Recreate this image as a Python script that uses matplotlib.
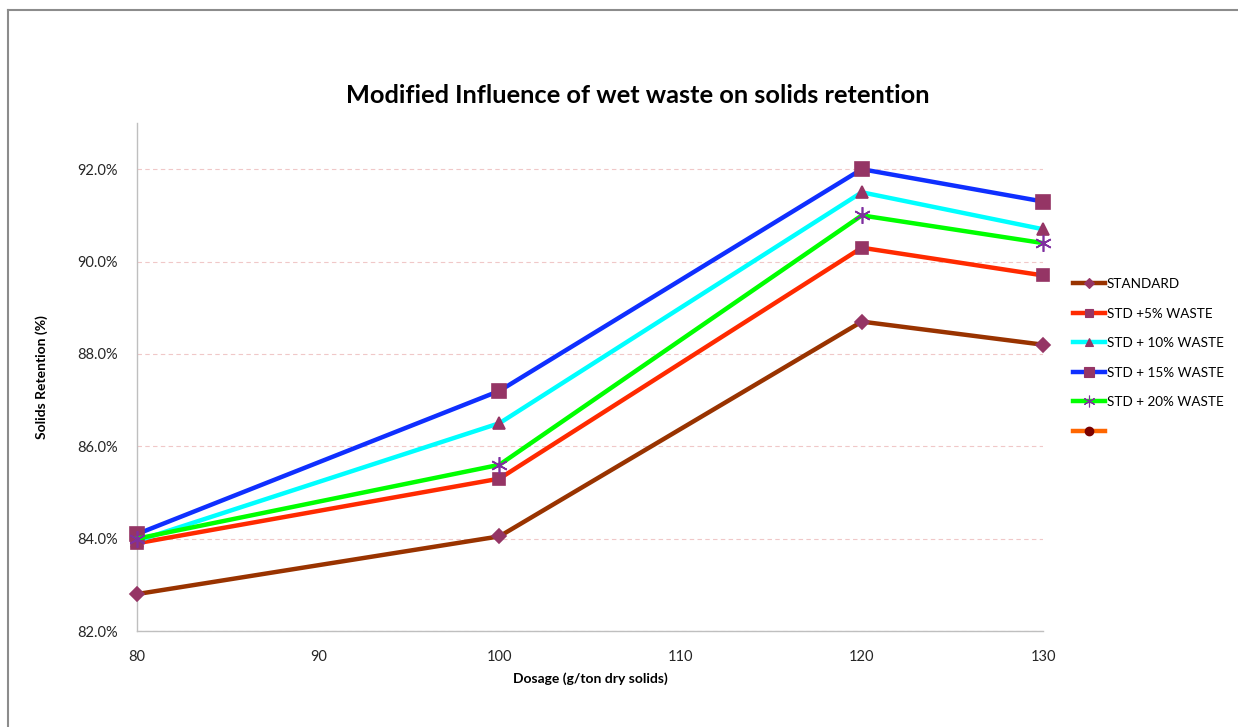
import matplotlib
matplotlib.use("Agg")
import matplotlib.pyplot as plt
from matplotlib.lines import Line2D
from matplotlib.ticker import FuncFormatter

plt.rcParams["font.family"] = ["Lato", "DejaVu Sans"]

# --- data ---
dosage = [80, 100, 120, 130]
standard = [82.8, 84.05, 88.7, 88.2]
std_5 = [83.9, 85.3, 90.3, 89.7]
std_10 = [83.95, 86.5, 91.5, 90.7]
std_15 = [84.1, 87.2, 92.0, 91.3]
std_20 = [84.0, 85.6, 91.0, 90.4]
empty_series = []

labels = ["STANDARD", "STD +5% WASTE", "STD + 10% WASTE", "STD + 15% WASTE", "STD + 20% WASTE", ""]
y_ticks = [82, 84, 86, 88, 90, 92]

# --- style ---
MARK = "#953565"
COL_GRID = "#F0C8C8"
COL_FRAME = "#BFBFBF"
COL_TEXT = "#262626"

fig = plt.figure(figsize=(12.38, 7.27), dpi=100, facecolor="white")
ax = fig.add_axes([0.1107, 0.132, 0.7318, 0.6988])

# outer chart frame (left + top visible)
fig.add_artist(Line2D([8 / 1238, 8 / 1238], [0, 1 - 10 / 727], color="#8C8C8C", lw=1.5, transform=fig.transFigure))
fig.add_artist(Line2D([8 / 1238, 1], [1 - 10 / 727, 1 - 10 / 727], color="#8C8C8C", lw=1.5, transform=fig.transFigure))

series = [
    (standard, "#993300", "D", 7, MARK),
    (std_5, "#FF2A00", "s", 9, MARK),
    (std_10, "#00FFFF", "^", 9, MARK),
    (std_15, "#0F2FFF", "s", 10, MARK),
    (std_20, "#00FF00", (6, 2, 0), 12, "#7F2F9F"),
]

handles = []
for vals, col, mk, ms, mcol in series:
    ax.plot(dosage, vals, color=col, lw=3.2, marker=mk, markersize=ms, clip_on=False,
            markerfacecolor=mcol, markeredgecolor=mcol, markeredgewidth=1.2, zorder=3)
    handles.append(Line2D([], [], color=col, lw=3.2, marker=mk, markersize=ms * 0.7,
                          markerfacecolor=mcol, markeredgecolor=mcol, markeredgewidth=0.8))
ax.plot(empty_series, empty_series, color="#FF6600", lw=3.2, marker="o", markersize=8,
        markerfacecolor="#7A0000", markeredgecolor="#7A0000")
handles.append(Line2D([], [], color="#FF6600", lw=3.2, marker="o", markersize=6,
                      markerfacecolor="#7A0000", markeredgecolor="#7A0000"))

ax.set_xlim(80, 130)
ax.set_ylim(82, 93)
ax.set_xticks([80, 90, 100, 110, 120, 130])
ax.set_yticks(y_ticks)
ax.yaxis.set_major_formatter(FuncFormatter(lambda v, p: f"{v:.1f}%"))
ax.grid(axis="y", color=COL_GRID, linestyle=(0, (4, 3)), linewidth=0.8)
ax.set_axisbelow(True)
for s in ["top", "right"]:
    ax.spines[s].set_visible(False)
for s in ["left", "bottom"]:
    ax.spines[s].set_color(COL_FRAME)
    ax.spines[s].set_linewidth(1.0)
ax.tick_params(axis="both", length=0, labelsize=10.5, labelcolor=COL_TEXT, pad=14)
ax.tick_params(axis="x", pad=14)

ax.set_xlabel("Dosage (g/ton dry solids)", fontsize=10, fontweight="bold", color="black", labelpad=6)
ax.set_ylabel("Solids Retention (%)", fontsize=10, fontweight="bold", color="black", labelpad=21)

fig.text(0.515, 0.869, "Modified Influence of wet waste on solids retention", ha="center", va="center",
         fontsize=18.3, fontweight="bold", color="black")

leg = fig.legend(handles, labels, loc="upper left", bbox_to_anchor=(0.862, 0.625), frameon=False,
                 fontsize=9.7, handlelength=2.4, handletextpad=0.15, labelspacing=1.3, borderaxespad=0)

fig.savefig("out.png", dpi=100, facecolor="white")
